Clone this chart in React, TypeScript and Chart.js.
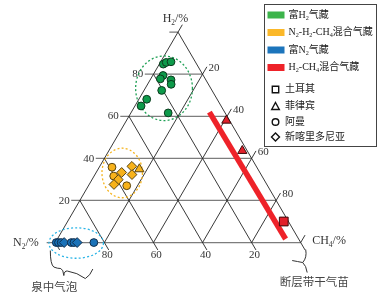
import { useEffect, useRef } from "react";
import { Chart, registerables } from "chart.js";

Chart.register(...registerables);

const W = 382;
const HGT = 305;
const SQ = Math.sqrt(3) / 2;

// ---- Data (percent). N2 = 100 - H2 - CH4 ----
const greenH2 = [84.8, 85.6, 85.9, 79.4, 77.8, 77.3, 75.2, 72.3, 68.1, 64.9, 61.6];
const greenCH4 = [1.6, 2.4, 4.2, 4.2, 3.9, 8.5, 9.6, 7.2, 3.2, 2.5, 15.2];
const greenShape = ["circle", "circle", "circle", "circle", "circle", "circle", "circle", "circle", "circle", "circle", "circle"];

const yellowH2 = [35.8, 31.6, 27.0, 36.2, 33.3, 32.3, 29.9, 27.6, 34.9];
const yellowCH4 = [5.2, 8.0, 15.6, 13.1, 10.4, 15.1, 10.7, 10.1, 16.8];
const yellowShape = ["circle", "circle", "circle", "rectRot", "rectRot", "rectRot", "rectRot", "rectRot", "triangle"];

const blueH2 = [0, 0, 0, 0, 0, 0, 0, 0];
const blueCH4 = [0.4, 1.3, 2.4, 3.6, 6.5, 7.6, 8.9, 15.7];
const blueShape = ["circle", "circle", "circle", "rectRot", "circle", "circle", "rectRot", "circle"];

const redH2 = [58.0, 43.6, 10.0];
const redCH4 = [40.7, 54.4, 88.1];
const redShape = ["triangle", "triangle", "rect"];

const redLineH2 = [62.0, 1.7];
const redLineCH4 = [31.8, 93.0];

const gridValues = [0, 20, 40, 60, 80, 100];
const tickLabels = ["20", "40", "60", "80"];

const legendGroups = ["富H_2气藏", "N_2-H_2-CH_4混合气藏", "富N_2气藏", "H_2-CH_4混合气藏"];
const legendColors = ["#3cb44b", "#fbb829", "#1c75bc", "#ee2229"];
const legendSites = ["土耳其", "菲律宾", "阿曼", "新喀里多尼亚"];
const legendSiteShapes = ["rect", "triangle", "circle", "rectRot"];

// ---- geometry ----
const toXY = (h2: number, ch4: number) => ({ x: ch4 / 100 + h2 / 200, y: (h2 / 100) * SQ });
const XMIN = -50 / 255;
const XMAX = 332 / 255;
const YMIN = -58 / 255;
const YMAX = 247 / 255;
const TICK = 9 / 255;

const RADIUS: Record<string, number> = { circle: 3.9, rectRot: 4.9, triangle: 5.3, rect: 6.2 };

function makeSet(label: string, h2: number[], ch4: number[], shapes: string[], fill: string, border: string) {
  return {
    type: "scatter" as const,
    label,
    data: h2.map((h, i) => toXY(h, ch4[i])),
    pointStyle: shapes,
    pointRadius: shapes.map((s) => RADIUS[s]),
    backgroundColor: fill,
    borderColor: border,
    borderWidth: 1,
  };
}

const SERIF = '"Liberation Serif", "Times New Roman", "Noto Sans CJK SC", serif';
const CJK = '"Liberation Serif", "Noto Sans CJK SC", serif';

function drawRich(ctx: CanvasRenderingContext2D, text: string, x: number, y: number, align: string, size: number, family: string) {
  const segs: [string, boolean][] = [];
  let buf = "";
  for (let i = 0; i < text.length; i++) {
    if (text[i] === "_" && i + 1 < text.length) {
      if (buf) segs.push([buf, false]);
      buf = "";
      segs.push([text[i + 1], true]);
      i++;
    } else buf += text[i];
  }
  if (buf) segs.push([buf, false]);
  const big = `${size}px ${family}`;
  const small = `${(size * 0.62).toFixed(1)}px ${family}`;
  let total = 0;
  segs.forEach(([t, s]) => {
    ctx.font = s ? small : big;
    total += ctx.measureText(t).width;
  });
  let cx = align === "left" ? x : align === "right" ? x - total : x - total / 2;
  ctx.textAlign = "left";
  ctx.textBaseline = "middle";
  segs.forEach(([t, s]) => {
    ctx.font = s ? small : big;
    ctx.fillText(t, cx, s ? y + size * 0.3 : y);
    cx += ctx.measureText(t).width;
  });
}

function drawSymbol(ctx: CanvasRenderingContext2D, shape: string, x: number, y: number) {
  ctx.beginPath();
  if (shape === "rect") ctx.rect(x - 3.2, y - 3.2, 6.4, 6.4);
  else if (shape === "triangle") {
    ctx.moveTo(x, y - 4);
    ctx.lineTo(x + 3.8, y + 3);
    ctx.lineTo(x - 3.8, y + 3);
    ctx.closePath();
  } else if (shape === "circle") ctx.arc(x, y, 3.3, 0, Math.PI * 2);
  else {
    ctx.moveTo(x, y - 4);
    ctx.lineTo(x + 4, y);
    ctx.lineTo(x, y + 4);
    ctx.lineTo(x - 4, y);
    ctx.closePath();
  }
  ctx.stroke();
}

const ellipses = [
  { cx: 0.443, cy: 0.635, rx: 0.1157, ry: 0.133, color: "#1fa055" },
  { cx: 0.2725, cy: 0.2863, rx: 0.0824, ry: 0.102, color: "#f6b41c" },
  { cx: 0.0851, cy: -0.002, rx: 0.111, ry: 0.0627, color: "#2ab4e6" },
];

const ternaryPlugin = {
  id: "ternary",
  beforeDatasetsDraw(chart: any) {
    const ctx: CanvasRenderingContext2D = chart.ctx;
    const xs = chart.scales.x;
    const ys = chart.scales.y;
    const P = (x: number, y: number): [number, number] => [xs.getPixelForValue(x), ys.getPixelForValue(y)];
    const line = (a: [number, number], b: [number, number], color: string, w: number) => {
      ctx.beginPath();
      ctx.moveTo(a[0], a[1]);
      ctx.lineTo(b[0], b[1]);
      ctx.strokeStyle = color;
      ctx.lineWidth = w;
      ctx.stroke();
    };
    ctx.save();
    ctx.fillStyle = "#fff";
    ctx.fillRect(0, 0, chart.width, chart.height);
    // H2 lines (horizontal)
    gridValues.forEach((v) => {
      const f = v / 100;
      line(P(f / 2 - TICK, f * SQ), P(1 - f / 2, f * SQ), "#7d7d7d", 1.3);
    });
    // CH4 lines (parallel to left edge)
    gridValues.forEach((v) => {
      const c = v / 100;
      line(P(c, 0), P(c + (1 - c) / 2 + TICK * 0.5, (1 - c) * SQ + TICK * SQ), "#222", 0.9);
    });
    // N2 lines (parallel to right edge)
    gridValues.forEach((v) => {
      const n = v / 100;
      line(P((1 - n) / 2, (1 - n) * SQ), P(1 - n + TICK * 0.5, -TICK * SQ), "#222", 0.9);
    });

    // tick labels
    ctx.fillStyle = "#333";
    ctx.font = `11px ${SERIF}`;
    tickLabels.forEach((lab) => {
      const f = Number(lab) / 100;
      const [lx, ly] = P(f / 2 - TICK, f * SQ);
      ctx.textAlign = "right";
      ctx.textBaseline = "middle";
      ctx.fillText(lab, lx - 1.5, ly + 0.3);
      const [ex, ey] = P(f + (1 - f) / 2, (1 - f) * SQ);
      ctx.textAlign = "left";
      ctx.fillText(lab, ex + 6, ey - 6);
      const [bx, by] = P(1 - f + TICK * 0.5, -TICK * SQ);
      ctx.textAlign = "center";
      ctx.fillText(lab, bx - 1.5, by + 5.2);
    });

    // axis titles
    const apex = P(0.5, SQ);
    const vN = P(0, 0);
    const vC = P(1, 0);
    drawRich(ctx, "H_2/%", apex[0] - 2.5, apex[1] - 13, "center", 12, SERIF);
    drawRich(ctx, "N_2/%", vN[0] - 16.5, vN[1] + 0.5, "right", 12, SERIF);
    drawRich(ctx, "CH_4/%", vC[0] + 11.5, vC[1] - 1.5, "left", 12, SERIF);

    // dashed ellipses
    ctx.setLineDash([2, 2.2]);
    ctx.lineWidth = 1.3;
    ellipses.forEach((e) => {
      const [cx, cy] = P(e.cx, e.cy);
      const rx = xs.getPixelForValue(e.cx + e.rx) - cx;
      const ry = cy - ys.getPixelForValue(e.cy + e.ry);
      ctx.beginPath();
      ctx.ellipse(cx, cy, rx, ry, 0, 0, Math.PI * 2);
      ctx.strokeStyle = e.color;
      ctx.stroke();
    });
    ctx.setLineDash([]);

    // braces
    ctx.strokeStyle = "#333";
    ctx.lineWidth = 1;
    const [nx, ny] = vN;
    ctx.beginPath();
    ctx.moveTo(nx - 5, ny + 8);
    ctx.quadraticCurveTo(nx - 5, ny + 22, nx - 1.5, ny + 24.5);
    ctx.quadraticCurveTo(nx + 2, ny + 26, nx + 5.5, ny + 26);
    ctx.quadraticCurveTo(nx + 8, ny + 27, nx + 8.5, ny + 33);
    ctx.quadraticCurveTo(nx + 9, ny + 28, nx + 12, ny + 28.5);
    ctx.quadraticCurveTo(nx + 22, ny + 30, nx + 30, ny + 36);
    ctx.quadraticCurveTo(nx + 35, ny + 33, nx + 37.5, ny + 26.5);
    ctx.stroke();
    const [cxv, cyv] = vC;
    ctx.beginPath();
    ctx.moveTo(cxv + 5, cyv + 7);
    ctx.quadraticCurveTo(cxv + 6.5, cyv + 15, cxv + 2, cyv + 20);
    ctx.quadraticCurveTo(cxv + 5.5, cyv + 23, cxv + 6.5, cyv + 30);
    ctx.moveTo(cxv - 8.5, cyv + 18);
    ctx.quadraticCurveTo(cxv - 3, cyv + 19, cxv + 2, cyv + 20);
    ctx.stroke();
    ctx.fillStyle = "#444";
    ctx.font = `11.5px ${CJK}`;
    ctx.textAlign = "center";
    ctx.textBaseline = "middle";
    ctx.fillText("泉中气泡", nx - 1, ny + 45);
    ctx.fillText("断层带干气苗", cxv + 13.5, cyv + 40);
    ctx.restore();
  },
  afterDraw(chart: any) {
    const ctx: CanvasRenderingContext2D = chart.ctx;
    ctx.save();
    ctx.strokeStyle = "#444";
    ctx.lineWidth = 1;
    ctx.strokeRect(264.5, 4.5, 112, 142);
    const rowsA = [15, 32.5, 50, 67.5];
    ctx.fillStyle = "#222";
    legendGroups.forEach((t, i) => {
      ctx.fillStyle = legendColors[i];
      ctx.fillRect(267.5, rowsA[i] - 3.5, 17, 7);
      ctx.fillStyle = "#222";
      drawRich(ctx, t, 288.5, rowsA[i], "left", 10, CJK);
    });
    const rowsB = [89.5, 106.5, 122, 137];
    ctx.strokeStyle = "#111";
    ctx.lineWidth = 1.4;
    legendSites.forEach((t, i) => {
      drawSymbol(ctx, legendSiteShapes[i], 275.5, rowsB[i]);
      ctx.fillStyle = "#222";
      drawRich(ctx, t, 285, rowsB[i], "left", 10, CJK);
    });
    ctx.restore();
  },
};

export default function App() {
  const ref = useRef<HTMLCanvasElement>(null);
  useEffect(() => {
    const lineData = redLineH2.map((h, i) => toXY(h, redLineCH4[i]));
    const chart = new Chart(ref.current as HTMLCanvasElement, {
      type: "scatter",
      data: {
        datasets: [
          makeSet("富H2气藏", greenH2, greenCH4, greenShape, "#0d9a4a", "#0c3a1e"),
          makeSet("N2-H2-CH4混合气藏", yellowH2, yellowCH4, yellowShape, "#f7b21a", "#5a4510"),
          makeSet("富N2气藏", blueH2, blueCH4, blueShape, "#1a72b8", "#0c2c4c"),
          makeSet("H2-CH4混合气藏", redH2, redCH4, redShape, "#e1202a", "#3a0c0c"),
          {
            type: "scatter" as const,
            label: "H2-CH4 trend",
            data: lineData,
            showLine: true,
            pointRadius: 0,
            borderColor: "#ee2229",
            borderWidth: 5.5,
            borderCapStyle: "butt",
          } as any,
        ],
      },
      options: {
        animation: false,
        responsive: false,
        events: [],
        layout: { padding: 0 },
        plugins: { legend: { display: false }, tooltip: { enabled: false } },
        scales: {
          x: { type: "linear", min: XMIN, max: XMAX, display: false },
          y: { type: "linear", min: YMIN, max: YMAX, display: false },
        },
      },
      plugins: [ternaryPlugin],
    });
    return () => chart.destroy();
  }, []);
  return (
    <div style={{ position: "fixed", left: 0, top: 0, width: W, height: HGT, background: "#fff" }}>
      <canvas ref={ref} width={W} height={HGT} style={{ display: "block" }} />
    </div>
  );
}
